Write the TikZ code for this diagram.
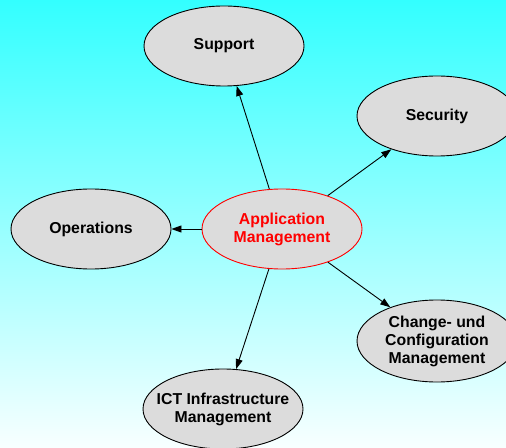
\documentclass[tikz,border=0pt]{standalone}
\usepackage{fontspec}
\setmainfont{Liberation Sans}
\usetikzlibrary{arrows.meta,shapes.geometric}
\definecolor{skytop}{HTML}{33FFFF}
\definecolor{skybottom}{HTML}{F8FFFF}
\definecolor{nodefill}{HTML}{DCDCDC}
\tikzset{
  topic/.style={ellipse, draw=black, line width=0.9bp, fill=nodefill,
    minimum width=160bp, minimum height=80bp, inner sep=0pt,
    align=center, font=\fontsize{15.8bp}{18bp}\selectfont\bfseries},
  hub/.style={topic, draw=red, text=red},
  tight/.style={inner xsep=-12bp},
  link/.style={-{Triangle[length=10bp,width=7bp]}, line width=0.9bp, black}
}
\begin{document}
\begin{tikzpicture}[x=1bp,y=-1bp]
  % backdrop with vertical gradient
  \shade[top color=skytop, bottom color=skybottom] (0,0) rectangle (506,448);
  \useasboundingbox (0,0) rectangle (506,448);
  \begin{scope}
    \clip (0,0) rectangle (506,448);
    \node[hub]   (am)  at (282,229) {Application\\Management};
    \node[topic] (sup) at (224,46)  {Support};
    \node[topic] (sec) at (437,116) {Security};
    \node[topic] (ops) at (91,229)  {Operations};
    \node[topic, tight, minimum height=82bp] (chg) at (437,341) {Change- und\\Configuration\\Management};
    \node[topic, tight] (ict) at (223,409) {ICT Infrastructure\\Management};
    \draw[link] (am) -- (sup);
    \draw[link] (am) -- (sec);
    \draw[link] (am) -- (ops);
    \draw[link] (am) -- (chg);
    \draw[link] (am) -- (ict);
  \end{scope}
\end{tikzpicture}
\end{document}
